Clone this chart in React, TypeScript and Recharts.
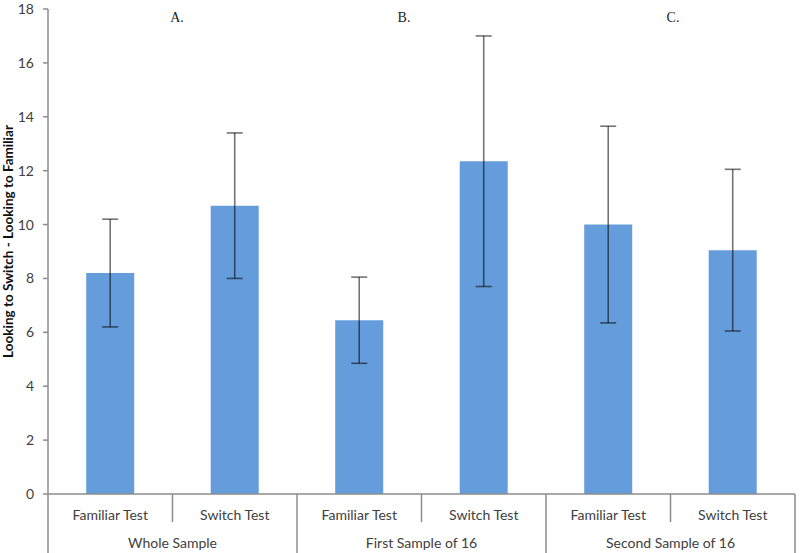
import React from 'react';
import { BarChart, Bar, XAxis, YAxis, ErrorBar } from 'recharts';

const tests = ['Familiar Test', 'Switch Test', 'Familiar Test', 'Switch Test', 'Familiar Test', 'Switch Test'];
const groups = ['Whole Sample', 'Whole Sample', 'First Sample of 16', 'First Sample of 16', 'Second Sample of 16', 'Second Sample of 16'];
const means = [8.2, 10.7, 6.45, 12.35, 10.0, 9.05];
const errors = [2.0, 2.7, 1.6, 4.65, 3.65, 3.0];
const yTicks = [0, 2, 4, 6, 8, 10, 12, 14, 16, 18];
const panelLetters = ['A.', 'B.', 'C.'];
const yTitle = 'Looking to Switch - Looking to Familiar';

const data = tests.map((t, i) => ({
  key: `${i}`,
  test: t,
  group: groups[i],
  mean: means[i],
  err: errors[i],
}));

const FONT = 'Lato, "Open Sans", sans-serif';
const AXIS = '#8c8c8c';

const CategoryTick = (props: any) => {
  const { x, y, payload, index } = props;
  const i = payload && payload.index !== undefined ? payload.index : index;
  const half = payload && payload.offset ? payload.offset : 62.25;
  const d = data[i];
  if (!d) return null;
  const left = x - half;
  const right = x + half;
  const groupStart = i % 2 === 0;
  return (
    <g>
      <line x1={left} x2={left} y1={y} y2={y + (groupStart ? 60 : 28)} stroke={AXIS} strokeWidth={1.5} />
      {i === data.length - 1 && (
        <line x1={right} x2={right} y1={y} y2={y + 60} stroke={AXIS} strokeWidth={1.5} />
      )}
      <text x={x} y={y + 20} textAnchor="middle" dominantBaseline="central" fontFamily={FONT} fontSize={14} fill="#404040">
        {d.test}
      </text>
      {i % 2 === 1 && (
        <text x={left} y={y + 48} textAnchor="middle" dominantBaseline="central" fontFamily={FONT} fontSize={14} fill="#404040">
          {d.group}
        </text>
      )}
    </g>
  );
};

const YTitle = (props: any) => {
  const vb = props.viewBox || { x: 0, y: 9, width: 48, height: 485 };
  const cy = vb.y + vb.height / 2 - 10;
  return (
    <text
      x={13}
      y={cy}
      transform={`rotate(-90, 13, ${cy})`}
      textAnchor="middle"
      fontFamily={FONT}
      fontWeight="bold"
      fontSize={13.5}
      fill="#111"
    >
      {yTitle}
    </text>
  );
};

const letterX = [177, 404, 673];

export default function App() {
  return (
    <div style={{ position: 'absolute', left: 0, top: 0, width: 800, height: 553, background: '#fff' }}>
      <BarChart
        width={800}
        height={553}
        data={data}
        margin={{ top: 9, right: 5, bottom: 0, left: 0 }}
        barCategoryGap="30.7%"
      >
        <XAxis
          dataKey="key"
          height={59}
          interval={0}
          tickSize={0}
          tickMargin={0}
          tickLine={false}
          axisLine={{ stroke: AXIS, strokeWidth: 1.5 }}
          tick={<CategoryTick />}
        />
        <YAxis
          width={48}
          domain={[0, 18]}
          ticks={yTicks}
          interval={0}
          tickSize={5}
          tickMargin={9}
          tickLine={{ stroke: AXIS, strokeWidth: 1.5 }}
          axisLine={{ stroke: AXIS, strokeWidth: 1.5 }}
          tick={{ fontFamily: FONT, fontSize: 14, fill: '#404040' }}
          label={<YTitle />}
        />
        <Bar dataKey="mean" fill="#659ddc" isAnimationActive={false}>
          <ErrorBar dataKey="err" width={8} stroke="#000" strokeOpacity={0.55} strokeWidth={1.6} direction="y" />
        </Bar>
      </BarChart>
      {panelLetters.map((l, i) => (
        <div
          key={l}
          style={{
            position: 'absolute',
            left: letterX[i] - 20,
            top: 10,
            width: 40,
            textAlign: 'center',
            fontFamily: '"Liberation Serif", "DejaVu Serif", serif',
            fontSize: 14,
            lineHeight: '16px',
            color: '#222',
          }}
        >
          {l}
        </div>
      ))}
    </div>
  );
}
